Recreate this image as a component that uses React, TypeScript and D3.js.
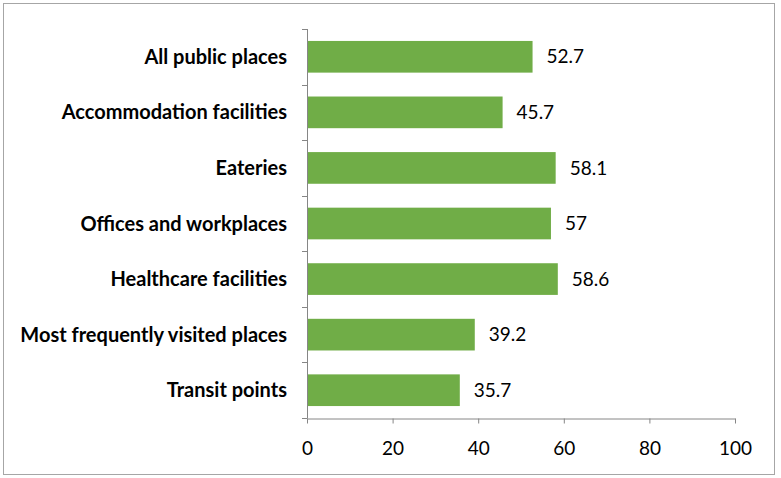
import { useEffect, useRef } from 'react';
import * as d3 from 'd3';

const categories = [
  'All public places',
  'Accommodation facilities',
  'Eateries',
  'Offices and workplaces',
  'Healthcare facilities',
  'Most frequently visited places',
  'Transit points',
];
const values = [52.7, 45.7, 58.1, 57, 58.6, 39.2, 35.7];
const xTicks = [0, 20, 40, 60, 80, 100];

const W = 781;
const H = 478;
const FONT = 'Lato, "Open Sans", sans-serif';

const App = () => {
  const svgRef = useRef<SVGSVGElement>(null);

  useEffect(() => {
    const root = d3.select(svgRef.current);
    root.selectAll('*').remove();

    // outer frame
    root.append('rect')
      .attr('x', 3.5).attr('y', 3.5)
      .attr('width', 771).attr('height', 471)
      .attr('fill', '#fff')
      .attr('stroke', '#a6a6a6')
      .attr('stroke-width', 1);

    const x = d3.scaleLinear().domain([0, 100]).range([307, 735]);
    const y = d3.scaleBand<string>()
      .domain(categories)
      .range([29, 418])
      .paddingInner(0.43)
      .paddingOuter(0.215);

    const data = categories.map((c, i) => ({ c, v: values[i] }));

    root.selectAll('rect.bar')
      .data(data)
      .enter()
      .append('rect')
      .attr('class', 'bar')
      .attr('x', x(0))
      .attr('y', d => y(d.c)!)
      .attr('width', d => x(d.v) - x(0))
      .attr('height', y.bandwidth())
      .attr('fill', '#70ad47');

    root.selectAll('text.val')
      .data(data)
      .enter()
      .append('text')
      .attr('class', 'val')
      .attr('x', d => x(d.v) + 14)
      .attr('y', d => y(d.c)! + y.bandwidth() / 2)
      .attr('dy', '0.35em')
      .attr('font-family', FONT)
      .attr('font-size', '19px')
      .attr('fill', '#000')
      .text(d => String(d.v));

    // category labels
    root.selectAll('text.cat')
      .data(data)
      .enter()
      .append('text')
      .attr('class', 'cat')
      .attr('x', 287)
      .attr('y', d => y(d.c)! + y.bandwidth() / 2)
      .attr('dy', '0.35em')
      .attr('text-anchor', 'end')
      .attr('font-family', FONT)
      .attr('font-weight', 'bold')
      .attr('font-size', '20px')
      .attr('fill', '#000')
      .text(d => d.c);

    const axisColor = '#868686';

    // y axis, ticks at band boundaries
    const bounds = d3.range(categories.length + 1).map(i => 29 + i * y.step());
    root.append('line')
      .attr('x1', x(0) + 0.5).attr('x2', x(0) + 0.5)
      .attr('y1', 29).attr('y2', 418)
      .attr('stroke', axisColor);
    root.selectAll('line.ytick')
      .data(bounds)
      .enter()
      .append('line')
      .attr('class', 'ytick')
      .attr('x1', x(0) - 5).attr('x2', x(0) + 0.5)
      .attr('y1', d => Math.round(d) + 0.5).attr('y2', d => Math.round(d) + 0.5)
      .attr('stroke', axisColor);

    // x axis
    const xAxis = root.append('g')
      .attr('transform', 'translate(0,418.5)')
      .call(d3.axisBottom(x).tickValues(xTicks).tickSize(5).tickSizeOuter(0).tickPadding(18));
    xAxis.select('.domain').attr('stroke', axisColor);
    xAxis.selectAll('.tick line').attr('stroke', axisColor);
    xAxis.selectAll('.tick text')
      .attr('font-family', FONT)
      .attr('font-size', '19px')
      .attr('fill', '#000');
  }, []);

  return (
    <svg ref={svgRef} width={W} height={H} style={{ display: 'block', position: 'absolute', left: 0, top: 0 }} />
  );
};

export default App;
